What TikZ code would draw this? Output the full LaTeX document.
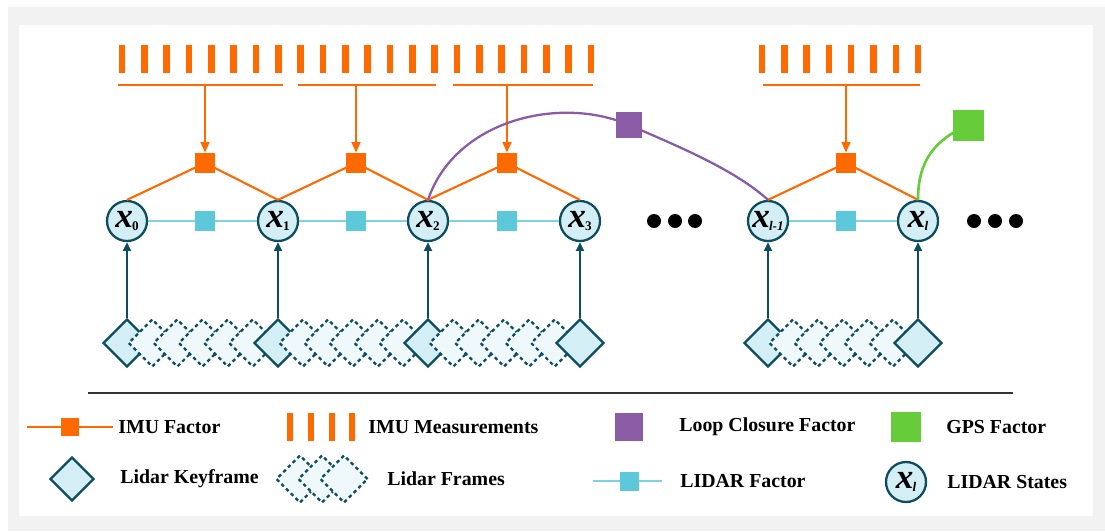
\documentclass[tikz,border=0pt]{standalone}
\usepackage{fontspec}
\setmainfont{Liberation Serif}
\usetikzlibrary{shapes.geometric,arrows.meta}
\definecolor{orng}{HTML}{FF6A00}
\definecolor{cyn}{HTML}{5CC8DA}
\definecolor{cynl}{HTML}{7DD3E3}
\definecolor{dteal}{HTML}{0E4D5E}
\definecolor{cfill}{HTML}{D3EEF5}
\definecolor{ffill}{HTML}{EFF8FB}
\definecolor{purp}{HTML}{8A5CA6}
\definecolor{grn}{HTML}{66CC3A}
\definecolor{bggray}{HTML}{F2F2F2}
\definecolor{sepc}{HTML}{333333}
\newcommand{\xsub}[1]{{\fontsize{20}{20}\selectfont\bfseries\itshape x}\kern-0.5pt\raisebox{-1.5pt}{\fontsize{7.5}{7.5}\selectfont\bfseries #1}}
\begin{document}
\begin{tikzpicture}[x=0.02cm,y=-0.02cm,
  state/.style={circle,draw=dteal,line width=1.3pt,fill=cfill,minimum size=0.8cm,inner sep=0pt},
  lfac/.style={rectangle,fill=cyn,minimum size=0.4cm,inner sep=0pt},
  ifac/.style={rectangle,fill=orng,minimum size=0.4cm,inner sep=0pt},
  keyf/.style={diamond,aspect=1,draw=dteal,line width=1.3pt,fill=cfill,minimum size=0.96cm,inner sep=0pt},
  lfr/.style={diamond,aspect=1,draw=dteal,line width=1.3pt,dash pattern=on 2pt off 1.8pt,fill=ffill,minimum size=0.96cm,inner sep=0pt},
  bar/.style={rectangle,fill=orng,minimum width=0.13cm,minimum height=0.56cm,inner sep=0pt},
  olink/.style={draw=orng,line width=1.2pt},
  clink/.style={draw=cynl,line width=1.2pt},
  oarr/.style={draw=orng,line width=1.1pt,-{Triangle[length=6pt,width=5pt]}},
  tarr/.style={draw=dteal,line width=1.2pt,-{Triangle[length=5pt,width=4.5pt]}},
  dot/.style={circle,fill=black,minimum size=0.28cm,inner sep=0pt},
  lbl/.style={anchor=west,font=\fontsize{11.3}{13}\selectfont\bfseries,inner sep=0pt}]
\useasboundingbox (0,0) rectangle (1105,531);
\fill[bggray] (8,7) rectangle (1105,531);
\fill[white] (19,25) rectangle (1093,516);

% IMU measurement bars
\foreach \i in {0,...,21} { \node[bar] (b\i) at ({122+22.33*\i},59) {}; }
\foreach \i in {0,...,7} { \node[bar] (c\i) at ({762+22.3*\i},59) {}; }
% bracket lines
\coordinate (g1a) at (118,85); \coordinate (g1b) at (283,85);
\coordinate (g2a) at (298,85); \coordinate (g2b) at (436,85);
\coordinate (g3a) at (453,85); \coordinate (g3b) at (593,85);
\coordinate (g4a) at (763,85); \coordinate (g4b) at (920,85);
\draw[olink] (g1a) -- (g1b); \draw[olink] (g2a) -- (g2b);
\draw[olink] (g3a) -- (g3b); \draw[olink] (g4a) -- (g4b);
\coordinate (t1) at (205,85); \coordinate (t2) at (356,85);
\coordinate (t3) at (507,85); \coordinate (t4) at (846,85);

% states
\node[state] (x0) at (127,221) {\xsub{0}};
\node[state] (x1) at (278,221) {\xsub{1}};
\node[state] (x2) at (428,221) {\xsub{2}};
\node[state] (x3) at (580,221) {\xsub{3}};
\node[state] (xa) at (768,221) {\xsub{\itshape l-1}};
\node[state] (xb) at (918,221) {\xsub{\itshape l}};

% imu factors
\coordinate (i1c) at (205,163); \coordinate (i2c) at (356,163);
\coordinate (i3c) at (507,163); \coordinate (i4c) at (846,163);
\draw[olink] (x0.north) -- (i1c) -- (x1.north);
\draw[olink] (x1.north) -- (i2c) -- (x2.north);
\draw[olink] (x2.north) -- (i3c) -- (x3.north);
\draw[olink] (xa.north) -- (i4c) -- (xb.north);
\node[ifac] (i1) at (i1c) {};
\node[ifac] (i2) at (i2c) {};
\node[ifac] (i3) at (i3c) {};
\node[ifac] (i4) at (i4c) {};
\draw[oarr] (t1) -- (i1.north);
\draw[oarr] (t2) -- (i2.north);
\draw[oarr] (t3) -- (i3.north);
\draw[oarr] (t4) -- (i4.north);

% lidar factors
\draw[clink] (x0) -- (x1); \draw[clink] (x1) -- (x2);
\draw[clink] (x2) -- (x3); \draw[clink] (xa) -- (xb);
\node[lfac] (l1) at (205,221) {};
\node[lfac] (l2) at (356,221) {};
\node[lfac] (l3) at (507,221) {};
\node[lfac] (l4) at (846,221) {};

% loop closure
\coordinate (lcc) at (629,125);
\draw[draw=purp,line width=1.3pt] (x2.north) .. controls (455,120) and (560,95) .. (lcc)
  .. controls (680,147) and (735,170) .. (xa.north);
\node[rectangle,fill=purp,minimum size=0.52cm,inner sep=0pt] (lc) at (lcc) {};
% gps
\coordinate (gpc) at (968,125);
\draw[draw=grn,line width=1.5pt] (xb.north) .. controls (918,160) and (935,140) .. (gpc);
\node[rectangle,fill=grn,minimum size=0.62cm,inner sep=0pt] (gps) at (gpc) {};

% dots
\node[dot] (d1) at (654,221) {}; \node[dot] (d2) at (675,221) {}; \node[dot] (d3) at (695,221) {};
\node[dot] (e1) at (974,221) {}; \node[dot] (e2) at (995,221) {}; \node[dot] (e3) at (1016,221) {};

% lidar frames and keyframes
\node[keyf] (k0) at (127,343) {};
\foreach \k in {1,...,5} { \node[lfr] (fa\k) at ({127+25.17*\k},343) {}; }
\node[keyf] (k1) at (278,343) {};
\foreach \k in {1,...,5} { \node[lfr] (fb\k) at ({278+25*\k},343) {}; }
\node[keyf] (k2) at (428,343) {};
\foreach \k in {1,...,5} { \node[lfr] (fc\k) at ({428+25.33*\k},343) {}; }
\node[keyf] (k3) at (580,343) {};
\node[keyf] (ka) at (768,343) {};
\foreach \k in {1,...,5} { \node[lfr] (fd\k) at ({768+25*\k},343) {}; }
\node[keyf] (kb) at (918,343) {};
\draw[tarr] (k0.north) -- (x0.south);
\draw[tarr] (k1.north) -- (x1.south);
\draw[tarr] (k2.north) -- (x2.south);
\draw[tarr] (k3.north) -- (x3.south);
\draw[tarr] (ka.north) -- (xa.south);
\draw[tarr] (kb.north) -- (xb.south);

% separator
\coordinate (sa) at (88,393); \coordinate (sb) at (1013,393);
\draw[draw=sepc,line width=1.6pt] (sa) -- (sb);

% legend row 1
\coordinate (la) at (27,427); \coordinate (lb) at (113,427);
\draw[olink] (la) -- (lb);
\node[ifac,minimum size=0.36cm] (lgi) at (70,427) {};
\node[lbl] (t_imuf) at (118,427) {IMU Factor};
\foreach \i/\xx in {1/290,2/311,3/332,4/352} { \node[bar] (lgb\i) at (\xx,427) {}; }
\node[lbl] (t_imum) at (368,427) {IMU Measurements};
\node[rectangle,fill=purp,minimum size=0.56cm,inner sep=0pt] (lgp) at (629,427) {};
\node[lbl] (t_loop) at (679,427) {Loop Closure Factor};
\node[rectangle,fill=grn,minimum size=0.6cm,inner sep=0pt] (lgg) at (906,427) {};
\node[lbl] (t_gps) at (946,427) {GPS Factor};
% legend row 2
\node[keyf,minimum size=0.88cm] (lgk) at (72,479) {};
\node[lbl] (t_key) at (120,479) {Lidar Keyframe};
\node[lfr,minimum size=0.96cm] (lgf1) at (300,479) {};
\node[lfr,minimum size=0.96cm] (lgf2) at (322,479) {};
\node[lfr,minimum size=0.96cm] (lgf3) at (344,479) {};
\node[lbl] (t_fr) at (387,479) {Lidar Frames};
\coordinate (ca) at (593,481); \coordinate (cb) at (662,481);
\draw[clink] (ca) -- (cb);
\node[lfac,minimum size=0.38cm] (lgl) at (629,481) {};
\node[lbl] (t_lf) at (680,481) {LIDAR Factor};
\node[state] (lgs) at (906,482) {\xsub{\itshape l}};
\node[lbl] (t_ls) at (947,482) {LIDAR States};
\end{tikzpicture}
\end{document}
